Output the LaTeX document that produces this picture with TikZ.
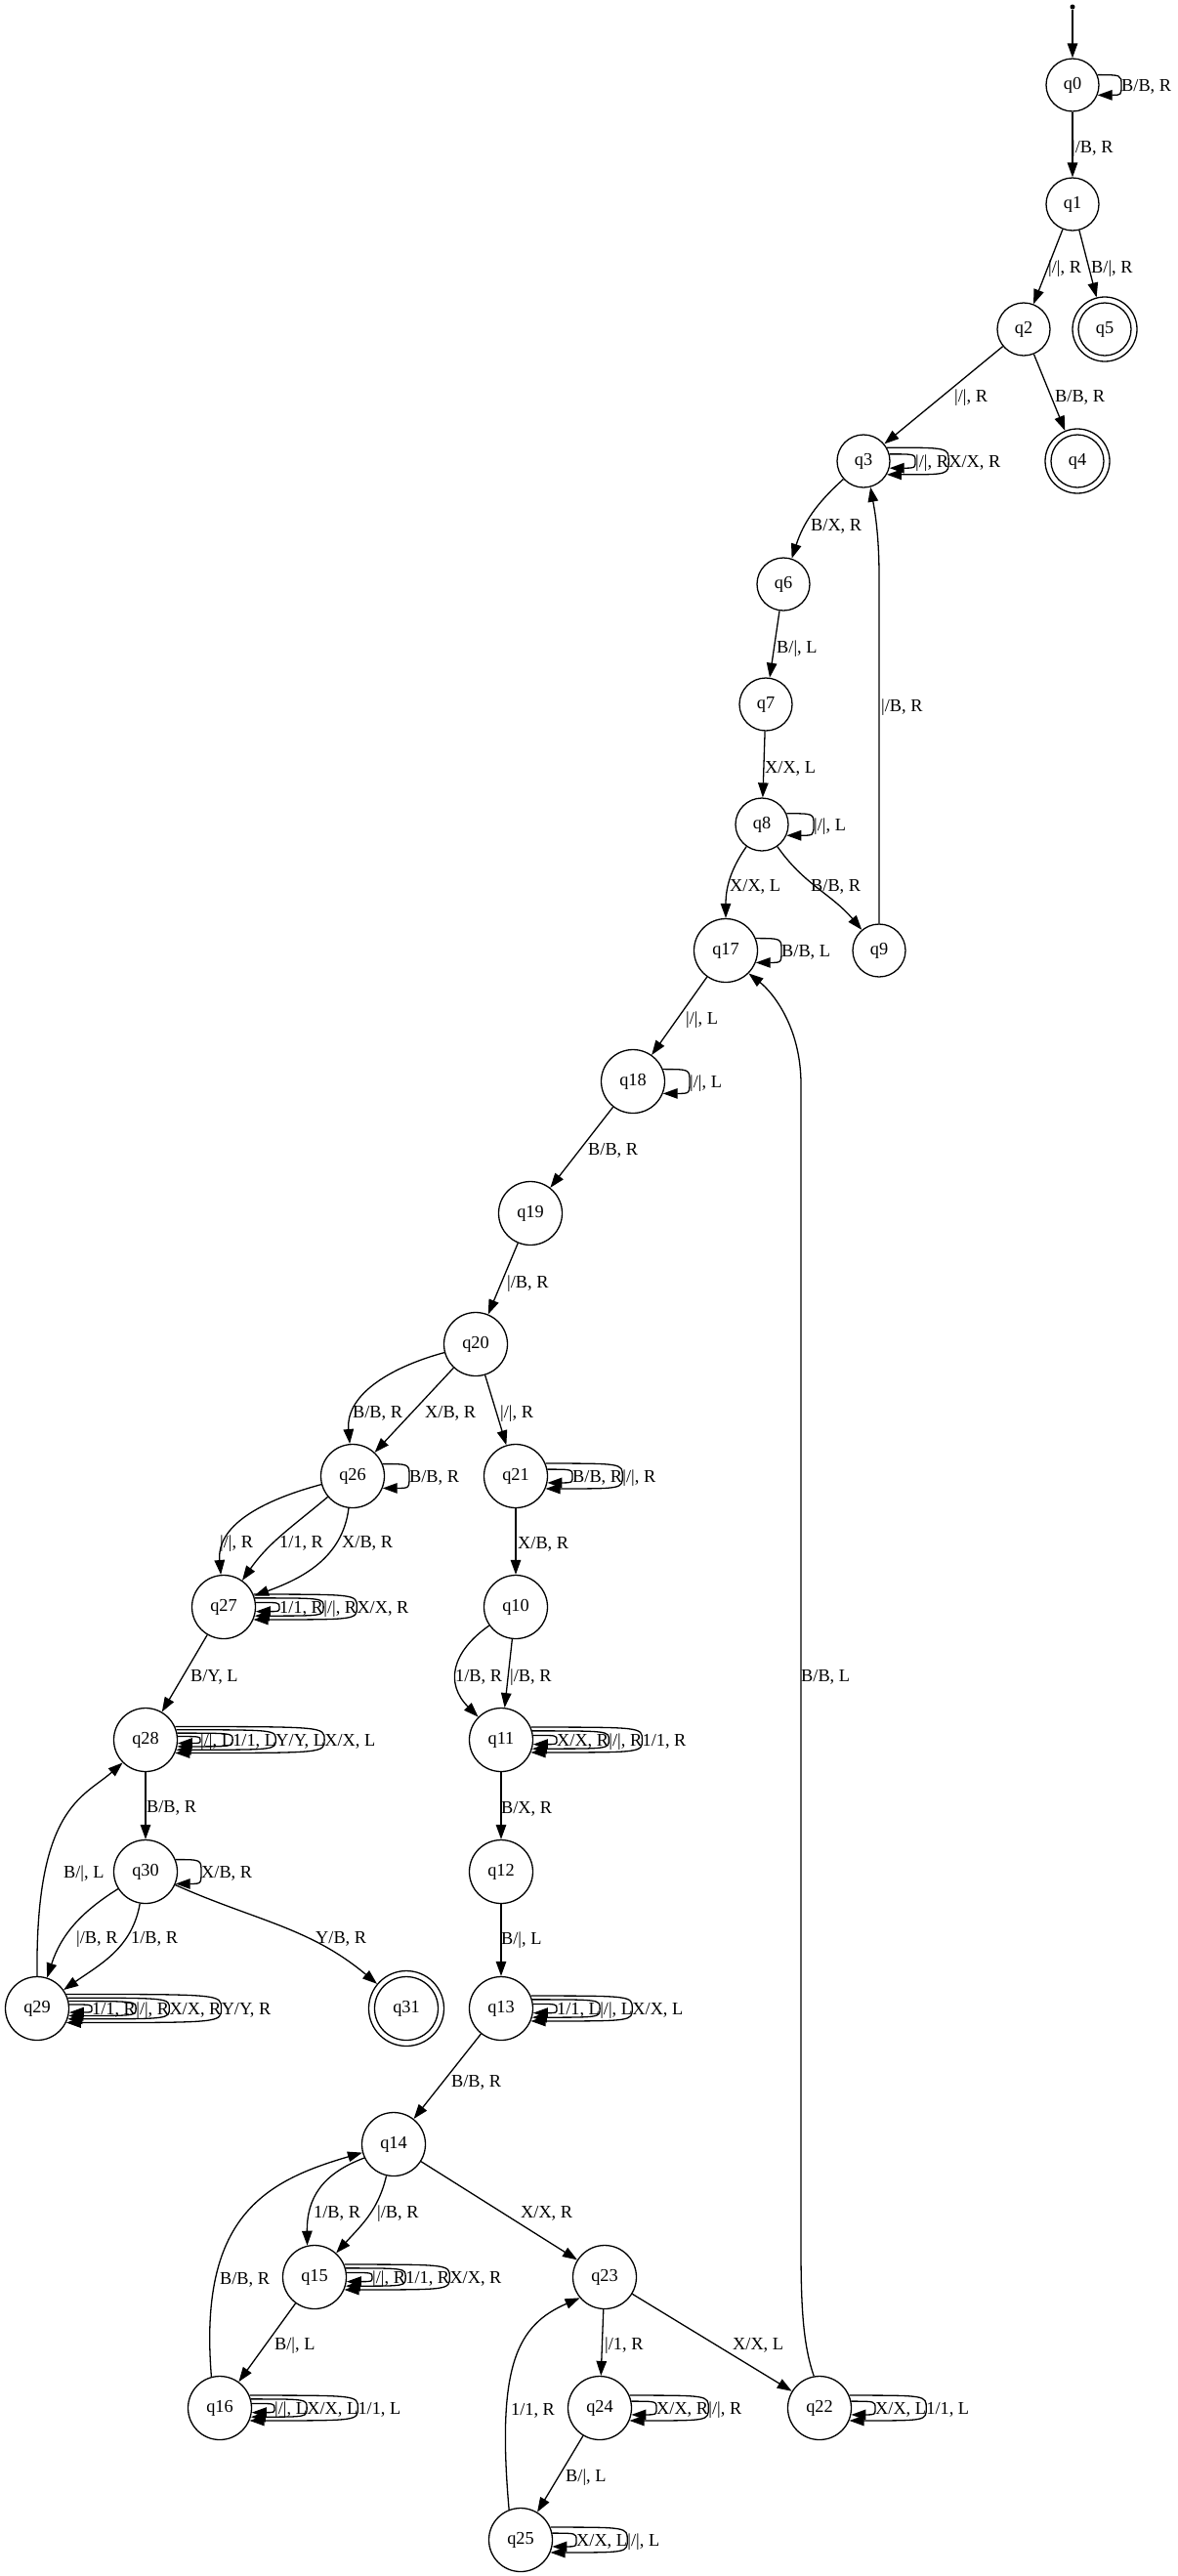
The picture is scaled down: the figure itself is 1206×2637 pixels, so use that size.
\documentclass[tikz,border=0pt]{standalone}
\usepackage{fontspec}
\setmainfont{Liberation Serif}
\usetikzlibrary{arrows.meta}
\newcommand\fsz{\fontsize{18.3pt}{20pt}\selectfont}
\newcommand\sloop[3]{\draw[edge] (#1.#2) .. controls (#1.#2 -| #3.west) .. (#3.west) .. controls (#1.-#2 -| #3.west) .. (#1.-#2);}
\tikzset{
  st/.style={circle,draw,line width=1.3pt,minimum size=65pt,inner sep=0pt,font=\fsz},
  sst/.style={st,minimum size=54pt},
  acc/.style={st,minimum size=66pt},
  edge/.style={line width=1.3pt,-{Triangle[length=15pt,width=10.5pt]}},
  lbl/.style={font=\fsz,inner sep=0pt,anchor=west,text height=12pt,text depth=0pt},
}
\begin{document}
\begin{tikzpicture}[x=1pt,y=1pt]
\path[use as bounding box,fill=white] (0,0) rectangle (1206,-2637);
% nodes
\node[circle,fill,inner sep=0pt,minimum size=5pt] (start) at (1098,-7) {};
\node[sst] (q0) at (1098,-87) {q0};
\node[sst] (q1) at (1098,-209) {q1};
\node[sst] (q2) at (1048,-337) {q2};
\node[acc] (q5) at (1131,-337) {q5};
\node[sst] (q5i) at (q5.center) {};
\node[sst] (q3) at (884,-472) {q3};
\node[acc] (q4) at (1103,-472) {q4};
\node[sst] (q4i) at (q4.center) {};
\node[sst] (q6) at (802,-598) {q6};
\node[sst] (q7) at (784,-721) {q7};
\node[sst] (q8) at (780,-844) {q8};
\node[st] (q17) at (743,-973) {q17};
\node[sst] (q9) at (900,-973) {q9};
\node[st] (q18) at (648,-1107) {q18};
\node[st] (q19) at (543,-1242) {q19};
\node[st] (q20) at (487,-1376) {q20};
\node[st] (q26) at (361,-1511) {q26};
\node[st] (q21) at (528,-1511) {q21};
\node[st] (q27) at (229,-1645) {q27};
\node[st] (q10) at (528,-1645) {q10};
\node[st] (q28) at (149,-1781) {q28};
\node[st] (q11) at (513,-1781) {q11};
\node[st] (q30) at (149,-1916) {q30};
\node[st] (q12) at (513,-1916) {q12};
\node[st] (q29) at (38,-2056) {q29};
\node[st,minimum size=77pt] (q31) at (416,-2056) {q31};
\node[st] (q31i) at (q31.center) {};
\node[st] (q13) at (513,-2056) {q13};
\node[st] (q14) at (403,-2195) {q14};
\node[st] (q15) at (322,-2331) {q15};
\node[st] (q23) at (619,-2331) {q23};
\node[st] (q16) at (225,-2465) {q16};
\node[st] (q24) at (614,-2465) {q24};
\node[st] (q22) at (839,-2465) {q22};
\node[st] (q25) at (533,-2600) {q25};

% loop labels
\node[lbl] (q0a) at (1148,-87) {B/B, R};
\node[lbl] (q3a) at (937,-472) {|/|, R};
\node[lbl] (q3b) at (q3a.east) {X/X, R};
\node[lbl] (q8a) at (833,-844) {|/|, L};
\node[lbl] (q17a) at (800,-973) {B/B, L};
\node[lbl] (q18a) at (706,-1107) {|/|, L};
\node[lbl] (q26a) at (419,-1511) {B/B, R};
\node[lbl] (q21a) at (586,-1511) {B/B, R};
\node[lbl] (q21b) at (q21a.east) {|/|, R};
\node[lbl] (q27a) at (286,-1645) {1/1, R};
\node[lbl] (q27b) at (q27a.east) {|/|, R};
\node[lbl] (q27c) at (q27b.east) {X/X, R};
\node[lbl] (q28a) at (205,-1781) {|/|, L};
\node[lbl] (q28b) at (q28a.east) {1/1, L};
\node[lbl] (q28c) at (q28b.east) {Y/Y, L};
\node[lbl] (q28d) at (q28c.east) {X/X, L};
\node[lbl] (q30a) at (206,-1916) {X/B, R};
\node[lbl] (q29a) at (94,-2056) {1/1, R};
\node[lbl] (q29b) at (q29a.east) {|/|, R};
\node[lbl] (q29c) at (q29b.east) {X/X, R};
\node[lbl] (q29d) at (q29c.east) {Y/Y, R};
\node[lbl] (q11a) at (570,-1781) {X/X, R};
\node[lbl] (q11b) at (q11a.east) {|/|, R};
\node[lbl] (q11c) at (q11b.east) {1/1, R};
\node[lbl] (q13a) at (570,-2056) {1/1, L};
\node[lbl] (q13b) at (q13a.east) {|/|, L};
\node[lbl] (q13c) at (q13b.east) {X/X, L};
\node[lbl] (q15a) at (381,-2331) {|/|, R};
\node[lbl] (q15b) at (q15a.east) {1/1, R};
\node[lbl] (q15c) at (q15b.east) {X/X, R};
\node[lbl] (q16a) at (281,-2465) {|/|, L};
\node[lbl] (q16b) at (q16a.east) {X/X, L};
\node[lbl] (q16c) at (q16b.east) {1/1, L};
\node[lbl] (q24a) at (672,-2465) {X/X, R};
\node[lbl] (q24b) at (q24a.east) {|/|, R};
\node[lbl] (q25a) at (590,-2600) {X/X, L};
\node[lbl] (q25b) at (q25a.east) {|/|, L};
\node[lbl] (q22a) at (896,-2465) {X/X, L};
\node[lbl] (q22b) at (q22a.east) {1/1, L};

% self loops
\sloop{q0}{22}{q0a}
\sloop{q3}{15}{q3a}
\sloop{q3}{30}{q3b}
\sloop{q8}{24}{q8a}
\sloop{q17}{22}{q17a}
\sloop{q18}{22}{q18a}
\sloop{q26}{22}{q26a}
\sloop{q21}{12}{q21a}
\sloop{q21}{23}{q21b}
\sloop{q27}{8}{q27a}
\sloop{q27}{16}{q27b}
\sloop{q27}{23}{q27c}
\sloop{q28}{6}{q28a}
\sloop{q28}{12}{q28b}
\sloop{q28}{18}{q28c}
\sloop{q28}{24}{q28d}
\sloop{q30}{22}{q30a}
\sloop{q29}{7}{q29a}
\sloop{q29}{13}{q29b}
\sloop{q29}{19}{q29c}
\sloop{q29}{26}{q29d}
\sloop{q11}{8}{q11a}
\sloop{q11}{16}{q11b}
\sloop{q11}{23}{q11c}
\sloop{q13}{8}{q13a}
\sloop{q13}{16}{q13b}
\sloop{q13}{23}{q13c}
\sloop{q15}{8}{q15a}
\sloop{q15}{16}{q15b}
\sloop{q15}{23}{q15c}
\sloop{q16}{8}{q16a}
\sloop{q16}{16}{q16b}
\sloop{q16}{23}{q16c}
\sloop{q24}{12}{q24a}
\sloop{q24}{23}{q24b}
\sloop{q25}{12}{q25a}
\sloop{q25}{23}{q25b}
\sloop{q22}{12}{q22a}
\sloop{q22}{23}{q22b}

% edges
\draw[edge] (start) -- (q0);
\draw[edge] (q0) -- (q1);
\draw[edge] (q1) -- (q2);
\draw[edge] (q1) -- (q5);
\draw[edge] (q2) -- (q3);
\draw[edge] (q2) -- (q4);
\draw[edge] (q3) to[bend right=15] (q6);
\draw[edge] (q6) -- (q7);
\draw[edge] (q7) -- (q8);
\draw[edge] (q8) to[out=-125,in=90] (q17);
\draw[edge] (q8) to[out=-55,in=130] (q9);
\coordinate (c9a) at (900,-590);
\draw[edge] (q9.north) -- (c9a) .. controls (900,-545) and (895,-520) .. (q3.-75);
\draw[edge] (q17) -- (q18);
\draw[edge] (q18) -- (q19);
\draw[edge] (q19) -- (q20);
\draw[edge] (q20) to[out=-165,in=95] (q26);
\draw[edge] (q20) -- (q26);
\draw[edge] (q20) -- (q21);
\draw[edge] (q21) -- (q10);
\draw[edge] (q26) to[out=-165,in=95] (q27);
\draw[edge] (q26) to[out=-140,in=55] (q27);
\draw[edge] (q26) to[out=-97,in=20] (q27);
\draw[edge] (q27) -- (q28);
\draw[edge] (q28) -- (q30);
\draw[edge] (q30) to[out=-148,in=72] (q29);
\draw[edge] (q30) to[out=-100,in=35] (q29);
\draw[edge] (q30) to[out=-24,in=140] (q31);
\draw[edge] (q29.90) .. controls (36,-1850) and (85,-1840) .. (q28.-135);
\draw[edge] (q10) to[out=-145,in=135,looseness=1.3] (q11);
\draw[edge] (q10) -- (q11);
\draw[edge] (q11) -- (q12);
\draw[edge] (q12) -- (q13);
\draw[edge] (q13) -- (q14);
\draw[edge] (q14.-155) .. controls (330,-2225) and (314,-2250) .. (q15.103);
\draw[edge] (q14) to[out=-103,in=48] (q15);
\draw[edge] (q14) -- (q23);
\draw[edge] (q15) -- (q16);
\draw[edge] (q16.105) .. controls (203,-2270) and (270,-2233) .. (q14.-165);
\draw[edge] (q23) -- (q24);
\draw[edge] (q23) -- (q22);
\draw[edge] (q24) -- (q25);
\draw[edge] (q25.111) .. controls (508,-2420) and (530,-2380) .. (q23.-140);
\coordinate (c22a) at (820,-2300);
\coordinate (c22b) at (820,-1110);
\draw[edge] (q22.100) .. controls (822,-2400) and (820,-2360) .. (c22a) -- (c22b) .. controls (820,-1050) and (790,-1015) .. (q17.-45);

% edge labels
\node[lbl] (l01) at (1097,-150) {|/B, R};
\node[lbl] (l12) at (1073,-273) {|/|, R};
\node[lbl] (l15) at (1117,-273) {B/|, R};
\node[lbl] (l23) at (977,-405) {|/|, R};
\node[lbl] (l24) at (1080,-405) {B/B, R};
\node[lbl] (l36) at (830,-537) {B/X, R};
\node[lbl] (l67) at (795,-662) {B/|, L};
\node[lbl] (l78) at (783,-785) {X/X, L};
\node[lbl] (l817) at (747,-906) {X/X, L};
\node[lbl] (l89) at (830,-906) {B/B, R};
\node[lbl] (l93) at (902,-722) {|/B, R};
\node[lbl] (l1718) at (702,-1042) {|/|, L};
\node[lbl] (l1819) at (602,-1176) {B/B, R};
\node[lbl] (l1920) at (519,-1312) {|/B, R};
\node[lbl] (l2026a) at (361,-1445) {B/B, R};
\node[lbl] (l2026b) at (435,-1445) {X/B, R};
\node[lbl] (l2021) at (512,-1445) {|/|, R};
\node[lbl] (l2110) at (530,-1579) {X/B, R};
\node[lbl] (l2627a) at (225,-1578) {|/|, R};
\node[lbl] (l2627b) at (286,-1578) {1/1, R};
\node[lbl] (l2627c) at (350,-1578) {X/B, R};
\node[lbl] (l2728) at (195,-1715) {B/Y, L};
\node[lbl] (l2830) at (150,-1849) {B/B, R};
\node[lbl] (l3029a) at (78,-1983) {|/B, R};
\node[lbl] (l3029b) at (134,-1983) {1/B, R};
\node[lbl] (l3031) at (323,-1983) {Y/B, R};
\node[lbl] (l2928) at (65,-1916) {B/|, L};
\node[lbl] (l1011a) at (466,-1715) {1/B, R};
\node[lbl] (l1011b) at (522,-1715) {|/B, R};
\node[lbl] (l1112) at (513,-1850) {B/X, R};
\node[lbl] (l1213) at (513,-1984) {B/|, L};
\node[lbl] (l1314) at (462,-2130) {B/B, R};
\node[lbl] (l1415a) at (321,-2264) {1/B, R};
\node[lbl] (l1415b) at (386,-2264) {|/B, R};
\node[lbl] (l1423) at (533,-2264) {X/X, R};
\node[lbl] (l1516) at (281,-2399) {B/|, L};
\node[lbl] (l1614) at (225,-2332) {B/B, R};
\node[lbl] (l2324) at (619,-2399) {|/1, R};
\node[lbl] (l2322) at (750,-2399) {X/X, L};
\node[lbl] (l2425) at (579,-2534) {B/|, L};
\node[lbl] (l2523) at (523,-2466) {1/1, R};
\node[lbl] (l2217) at (820,-1715) {B/B, L};
\end{tikzpicture}
\end{document}
